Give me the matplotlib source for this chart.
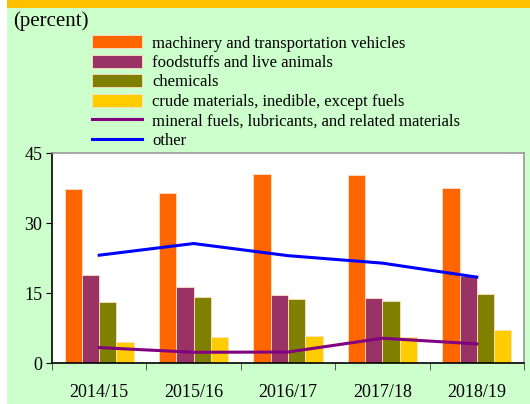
import numpy as np
import matplotlib.pyplot as plt
from matplotlib.patches import Rectangle

years = ['2014/15', '2015/16', '2016/17', '2017/18', '2018/19']
machinery = [37.3, 36.4, 40.6, 40.3, 37.5]
foodstuffs = [18.9, 16.2, 14.6, 14.0, 18.7]
chemicals = [13.1, 14.1, 13.8, 13.35, 14.8]
crude = [4.4, 5.6, 5.85, 5.6, 7.1]
mineral = [3.3, 2.3, 2.35, 5.3, 4.1]
other = [23.1, 25.6, 23.0, 21.4, 18.4]

plt.rcParams['font.family'] = ['Liberation Serif', 'DejaVu Serif']

fig = plt.figure(figsize=(5.30, 4.04), dpi=100)
fig.patch.set_facecolor('white')
fig.patches.append(Rectangle((7 / 530, 0), 1, 1, transform=fig.transFigure,
                             facecolor='#CCFFCC', edgecolor='none', zorder=-2))
fig.patches.append(Rectangle((7 / 530, 1 - 8 / 404), 1, 8 / 404, transform=fig.transFigure,
                             facecolor='#FFC000', edgecolor='none', zorder=-1))

ax = fig.add_axes([52 / 530, 1 - 363 / 404, 472 / 530, 210 / 404])
ax.set_facecolor('white')

x = np.arange(len(years))
w = 0.183
bar_series = [(machinery, '#FF6600', 'machinery and transportation vehicles'),
              (foodstuffs, '#993366', 'foodstuffs and live animals'),
              (chemicals, '#808000', 'chemicals'),
              (crude, '#FFCC00', 'crude materials, inedible, except fuels')]
handles = []
for i, (vals, col, lab) in enumerate(bar_series):
    b = ax.bar(x + (i - 1.5) * w, vals, w, color=col, edgecolor='#FFE0C0',
               linewidth=0.6, label=lab)
    handles.append(b)

l1, = ax.plot(x, mineral, color='#800080', lw=2.2,
              label='mineral fuels, lubricants, and related materials')
l2, = ax.plot(x, other, color='#0000FF', lw=2.2, label='other')
handles += [l1, l2]

ax.set_xlim(-0.5, len(years) - 0.5)
ax.set_ylim(0, 45)
ax.set_yticks([0, 15, 30, 45])
ax.set_xticks(x)
ax.set_xticklabels(years)
ax.set_xticks(np.arange(-0.5, len(years)), minor=True)
ax.tick_params(axis='x', which='major', length=0, labelsize=13, pad=15)
ax.tick_params(axis='x', which='minor', length=5, direction='out', color='#404040')
ax.tick_params(axis='y', length=4, direction='out', labelsize=13, pad=3)
for s in ['top', 'right']:
    ax.spines[s].set_color('#999999')
    ax.spines[s].set_linewidth(1.2)
for s in ['left', 'bottom']:
    ax.spines[s].set_color('black')
    ax.spines[s].set_linewidth(1.2)

fig.text(13 / 530, 1 - 21 / 404, '(percent)', fontsize=15, va='center', ha='left')

fig.legend(handles=handles, loc='upper left', bbox_to_anchor=(84 / 530, 1 - 27 / 404),
           frameon=False, fontsize=12, handlelength=3.0, handleheight=0.8,
           handletextpad=0.6, labelspacing=0.2, borderpad=0)

fig.savefig('out.png', dpi=100)
